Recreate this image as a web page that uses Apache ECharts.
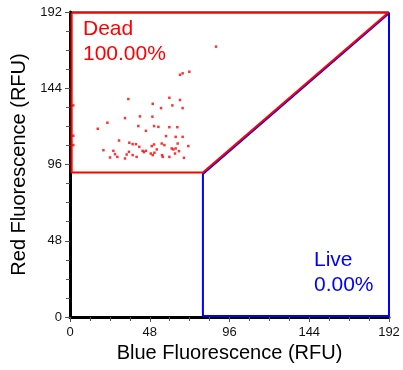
<!DOCTYPE html>
<html>
<head>
<meta charset="utf-8">
<script src="https://cdn.jsdelivr.net/npm/echarts@6/dist/echarts.min.js"></script>
<style>
html,body{margin:0;padding:0;background:#fff;}
#chart{width:403px;height:370px;}
</style>
</head>
<body>
<div id="chart"></div>
<script>
// Tick labels / axis range
const axisTicks = [0, 48, 96, 144, 192];
const xAxisTitle = 'Blue Fluorescence (RFU)';
const yAxisTitle = 'Red Fluorescence (RFU)';

// Event data (blue, red)
const eventX = [87.9, 66.2, 67.8, 71.8, 2.0, 35.1, 49.8, 59.8, 61.6, 66.2, 67.8, 54.8, 22.5, 16.7, 33.1, 42.1, 41.1, 49.6, 50.6, 53.2, 45.7, 59.8, 64.6, 2.0, 63.6, 67.8, 57.8, 29.5, 35.7, 37.7, 39.7, 41.7, 49.2, 50.6, 55.2, 56.8, 64.8, 71.2, 2.0, 20.1, 26.1, 27.1, 28.5, 24.1, 34.1, 35.5, 33.1, 43.7, 44.5, 45.7, 48.6, 49.8, 50.8, 52.2, 55.4, 55.8, 59.8, 61.2, 62.2, 63.6, 65.6, 68.6, 63.2, 40.1, 37.7];
const eventY = [170.2, 152.5, 153.4, 154.4, 133.2, 137.2, 134.2, 138.0, 133.2, 136.6, 131.5, 131.5, 122.3, 118.5, 125.2, 126.3, 120.2, 126.1, 120.2, 119.7, 117.2, 119.5, 119.5, 114.1, 113.4, 113.4, 113.9, 111.1, 109.7, 108.8, 108.8, 107.1, 107.6, 108.6, 109.2, 108.2, 109.2, 107.6, 108.2, 105.0, 104.6, 102.5, 100.8, 100.4, 102.3, 104.0, 99.8, 104.6, 103.8, 104.6, 102.9, 101.9, 103.4, 105.5, 101.9, 100.8, 100.8, 106.1, 105.5, 106.1, 104.4, 100.2, 102.9, 100.8, 101.9];

// Gates (polygon vertices)
const deadGateX = [1, 191.5, 80, 1, 1];
const deadGateY = [191.5, 191.5, 91, 91, 191.5];
const liveGateX = [80, 80, 192, 192, 80];
const liveGateY = [0.6, 90.1, 191.2, 0.6, 0.6];
const deadLabel = ['Dead', '100.00%'];
const liveLabel = ['Live', '0.00%'];

const pts = eventX.map((x, i) => [x, eventY[i]]);
const zip = (a, b) => a.map((v, i) => [v, b[i]]);

const chart = echarts.init(document.getElementById('chart'), null, {renderer: 'canvas'});
const font = 'Liberation Sans, Arial, sans-serif';

const axisCommon = {
  type: 'value',
  min: axisTicks[0],
  max: axisTicks[axisTicks.length - 1],
  interval: 48,
  nameLocation: 'middle',
  nameTextStyle: {fontFamily: font, fontSize: 20, color: '#000'},
  axisLine: {show: true, onZero: false, lineStyle: {color: '#000', width: 3}},
  axisTick: {show: true, inside: false, length: 5, lineStyle: {color: '#555', width: 1}},
  minorTick: {show: true, splitNumber: 4, length: 4, lineStyle: {color: '#555', width: 1}},
  splitLine: {show: false},
  axisLabel: {fontFamily: font, fontSize: 13, color: '#111'}
};

chart.setOption({
  animation: false,
  backgroundColor: '#fff',
  grid: {left: 70, right: 14, top: 12, bottom: 53, show: true, borderColor: '#000', borderWidth: 1, backgroundColor: 'transparent'},
  xAxis: Object.assign({}, axisCommon, {name: xAxisTitle, nameGap: 26, axisLabel: Object.assign({}, axisCommon.axisLabel, {margin: 9})}),
  yAxis: Object.assign({}, axisCommon, {name: yAxisTitle, nameGap: 36, axisLabel: Object.assign({}, axisCommon.axisLabel, {margin: 8})}),
  series: [
    {
      type: 'scatter',
      data: pts,
      symbol: 'rect',
      symbolSize: 2.5,
      itemStyle: {color: '#ff0000'},
      silent: true,
      z: 3
    },
    {
      type: 'line',
      data: zip(liveGateX, liveGateY),
      symbol: 'none',
      lineStyle: {color: '#0000ff', width: 2},
      silent: true,
      z: 4
    },
    {
      type: 'line',
      data: zip(deadGateX, deadGateY),
      symbol: 'none',
      lineStyle: {color: '#ff0000', width: 2},
      silent: true,
      z: 5
    }
  ],
  graphic: [
    {type: 'text', left: 83, top: 17, style: {text: deadLabel.join('\n'), fill: '#ff0000', font: '21px ' + font, lineHeight: 25}},
    {type: 'text', left: 314, top: 248, style: {text: liveLabel.join('\n'), fill: '#0000ff', font: '21px ' + font, lineHeight: 25}}
  ]
});
</script>
</body>
</html>
